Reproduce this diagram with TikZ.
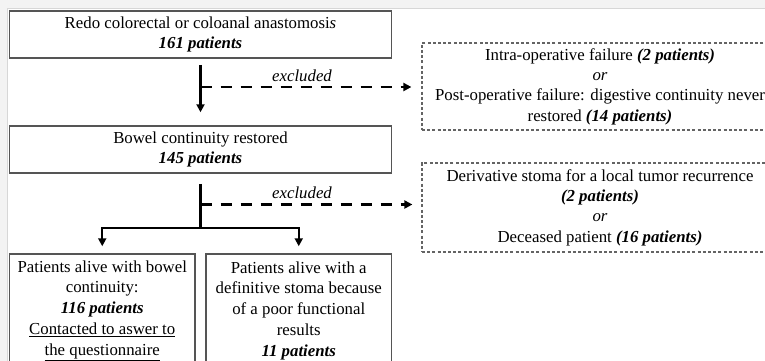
\documentclass[tikz,border=0pt]{standalone}
\usepackage{fontspec}
\setmainfont{Liberation Serif}
\usetikzlibrary{arrows.meta}
\definecolor{boxgray}{RGB}{85,85,85}
\definecolor{dashgray}{RGB}{100,100,100}
\definecolor{framegray}{RGB}{243,243,243}
\definecolor{frameline}{RGB}{215,215,215}
\newcommand{\pbi}[1]{\textbf{\textit{#1}}}
\begin{document}
\begin{tikzpicture}[x=1pt,y=-1pt,
  font=\fontsize{16.8}{20.4}\selectfont,
  solidbox/.style={draw=boxgray, line width=1.5pt, inner sep=0pt, align=center},
  dashbox/.style={draw=dashgray, line width=1.2pt, dash pattern=on 3pt off 2.2pt, inner sep=0pt, align=center},
  txt/.style={inner sep=0pt, align=center},
  flow/.style={line width=2.3pt, -{Triangle[length=8pt,width=8pt]}},
  trunk/.style={line width=2.3pt},
  excl/.style={line width=2.5pt, dash pattern=on 11pt off 9pt, -{Triangle[length=8pt,width=8pt]}},
  excltext/.style={inner sep=0pt, font=\fontsize{16.8}{20.4}\selectfont\itshape}
]
\clip (0,0) rectangle (765,361);
\fill[white] (0,0) rectangle (765,361);
\fill[framegray] (0,0) rectangle (765,8);
\fill[framegray] (0,0) rectangle (7,361);
\draw[frameline, line width=0.8pt] (7,361) -- (7,8) -- (765,8);

% main boxes
\node[solidbox, minimum width=382pt, minimum height=47pt] (b1) at (200.5,34.5)
  {Redo colorectal or coloanal anastomosi\textit{s}\\ \pbi{161 patients}};
\node[solidbox, minimum width=382pt, minimum height=47pt] (b2) at (200.5,149.5)
  {Bowel continuity restored\\ \pbi{145 patients}};

% excluded boxes
\node[dashbox, minimum width=356pt, minimum height=87pt] (d1) at (600,86.5)
  {Intra-operative failure \pbi{(2 patients)}\\ \textit{or}\\
   Post-operative failure: digestive continuity never\\ restored \pbi{(14 patients)}};
\node[dashbox, minimum width=356pt, minimum height=89pt] (d2) at (600,207.5)
  {Derivative stoma for a local tumor recurrence\\ \pbi{(2 patients)}\\ \textit{or}\\
   Deceased patient \pbi{(16 patients)}};

% bottom boxes (cut by the frame)
\node[solidbox, minimum width=185.5pt, minimum height=131pt] (b3) at (102.25,319.5) {};
\node[solidbox, minimum width=185.5pt, minimum height=131pt] (b4) at (298.75,319.5) {};
\node[txt, font=\fontsize{16.8}{20.75}\selectfont] (t3) at (102.25,310.5)
  {Patients alive with bowel\\ continuity:\\ \pbi{116 patients}\\
   \underline{Contacted to aswer to}\\ \underline{the questionnaire}};
\node[txt, font=\fontsize{16.8}{20.75}\selectfont] (t4) at (298.75,310.5)
  {Patients alive with a\\ definitive stoma because\\ of a poor functional\\ results\\ \pbi{11 patients}};

% first step
\coordinate (j1) at (200.5,87);
\draw[flow] ([yshift=-6pt]b1.south) -- ([yshift=13pt]b2.north);
\draw[excl, shorten >=10pt] (j1) -- (j1 -| d1.west);
\node[excltext] (e1) at (302,76) {excluded};

% second step
\coordinate (j2) at (200.5,204.5);
\coordinate (split) at (200.5,228);
\draw[trunk] ([yshift=-10pt]b2.south) -- (split);
\draw[excl, shorten >=9pt] (j2) -- (j2 -| d2.west);
\node[excltext] (e2) at (302,193) {excluded};
\draw[flow, shorten >=7pt] (split) -| (b3.north);
\draw[flow, shorten >=7pt] (split) -| (b4.north);
\end{tikzpicture}
\end{document}
